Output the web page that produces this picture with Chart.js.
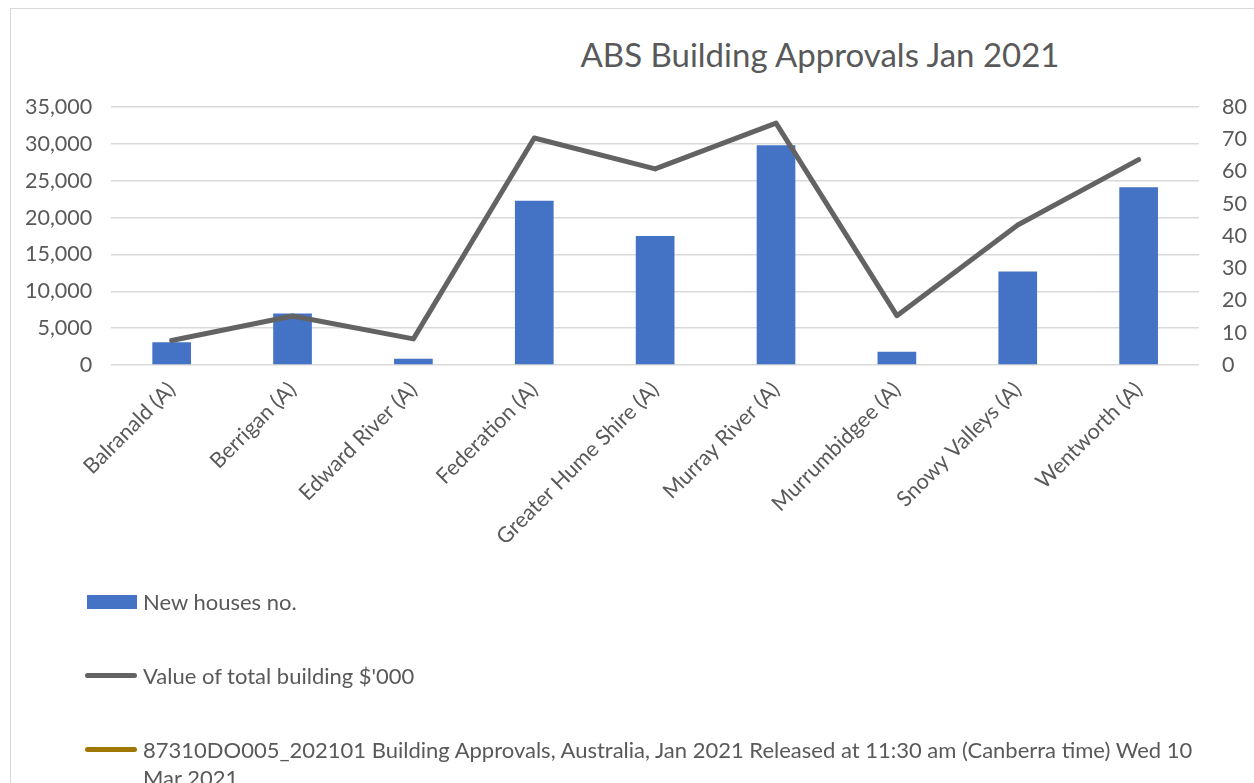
<!DOCTYPE html>
<html>
<head>
<meta charset="utf-8">
<script src="https://cdn.jsdelivr.net/npm/chart.js@4"></script>
<style>
  html, body { margin: 0; padding: 0; background: #fff; }
  body { width: 1254px; height: 783px; position: relative; overflow: hidden; font-family: Lato, "Open Sans", sans-serif; color: #595959; }
  #frame { position: absolute; left: 10px; top: 8px; width: 1300px; height: 900px; border: 1.5px solid #d9d9d9; box-sizing: border-box; }
  #title { position: absolute; left: 470px; width: 700px; top: 34px; text-align: center; font-size: 33px; color: #595959; }
  #wrap { position: absolute; left: 0; top: 0; width: 1270px; height: 783px; }
  #legend { position: absolute; left: 85px; top: 588px; width: 1120px; font-size: 22px; }
  .item { display: flex; align-items: flex-start; margin-bottom: 46px; line-height: 28px; }
  .item .txt { max-width: 1055px; }
  .sw { flex: 0 0 58px; height: 28px; position: relative; }
  .sw i { position: absolute; }
</style>
</head>
<body>
<div id="frame"></div>
<div id="title">ABS Building Approvals Jan 2021</div>
<div id="wrap"><canvas id="chart" width="1270" height="783"></canvas></div>
<div id="legend"></div>
<script>
const regions = ['Balranald (A)', 'Berrigan (A)', 'Edward River (A)', 'Federation (A)', 'Greater Hume Shire (A)',
  'Murray River (A)', 'Murrumbidgee (A)', 'Snowy Valleys (A)', 'Wentworth (A)'];
const newHouses = [3100, 7000, 850, 22300, 17500, 29800, 1800, 12700, 24100];
const totalValue = [7.6, 15.2, 8.1, 70.4, 60.8, 75.0, 15.3, 43.4, 63.7];
const seriesNames = ['New houses no.', "Value of total building $'000",
  '87310DO005_202101 Building Approvals, Australia, Jan 2021 Released at 11:30 am (Canberra time) Wed 10 Mar 2021'];
const leftTicks = [0, 5000, 10000, 15000, 20000, 25000, 30000, 35000];
const rightTicks = [0, 10, 20, 30, 40, 50, 60, 70, 80];

const tickFont = { family: 'Lato, "Open Sans", sans-serif', size: 21.5 };
const grey = '#595959';

const chart = new Chart(document.getElementById('chart'), {
  type: 'bar',
  data: {
    labels: regions,
    datasets: [
      { type: 'bar', label: seriesNames[0], data: newHouses, yAxisID: 'y', backgroundColor: '#4472c4',
        categoryPercentage: 1, barPercentage: 0.32, order: 2 },
      { type: 'line', label: seriesNames[1], data: totalValue, yAxisID: 'y1', borderColor: '#636363',
        borderWidth: 5, pointRadius: 0, borderCapStyle: 'round', borderJoinStyle: 'round', tension: 0, order: 1 },
      { type: 'line', label: seriesNames[2], data: [], yAxisID: 'y1', borderColor: '#9e7800',
        borderWidth: 5, pointRadius: 0, order: 0 }
    ]
  },
  options: {
    responsive: false,
    animation: false,
    layout: { padding: { left: 6, right: 0, top: 107, bottom: 229 } },
    plugins: { legend: { display: false }, title: { display: false }, tooltip: { enabled: false } },
    scales: {
      x: {
        grid: { display: false }, border: { display: false },
        ticks: { color: grey, font: tickFont, maxRotation: 45, minRotation: 45, padding: 4 }
      },
      y: {
        position: 'left', min: 0, max: 35000,
        afterBuildTicks: s => { s.ticks = leftTicks.map(v => ({ value: v })); },
        grid: { color: '#d9d9d9', lineWidth: 1.5, drawTicks: false }, border: { display: false },
        ticks: { color: grey, font: tickFont, padding: 19, callback: v => v.toLocaleString('en-US') }
      },
      y1: {
        position: 'right', min: 0, max: 80,
        afterBuildTicks: s => { s.ticks = rightTicks.map(v => ({ value: v })); },
        grid: { display: false, drawTicks: false }, border: { display: false },
        ticks: { color: grey, font: tickFont, padding: 23 }
      }
    }
  }
});

// legend built from the datasets, stacked vertically like the original
const legendEl = document.getElementById('legend');
chart.data.datasets.forEach(ds => {
  const item = document.createElement('div');
  item.className = 'item';
  const sw = document.createElement('span');
  sw.className = 'sw';
  const mark = document.createElement('i');
  if (ds.type === 'bar') {
    mark.style.cssText = `left:2px;top:7px;width:50px;height:14px;background:${ds.backgroundColor}`;
  } else {
    mark.style.cssText = `left:0;top:11px;width:52px;height:5px;border-radius:3px;background:${ds.borderColor}`;
  }
  sw.appendChild(mark);
  const txt = document.createElement('span');
  txt.className = 'txt';
  txt.textContent = ds.label;
  item.appendChild(sw);
  item.appendChild(txt);
  legendEl.appendChild(item);
});
</script>
</body>
</html>
